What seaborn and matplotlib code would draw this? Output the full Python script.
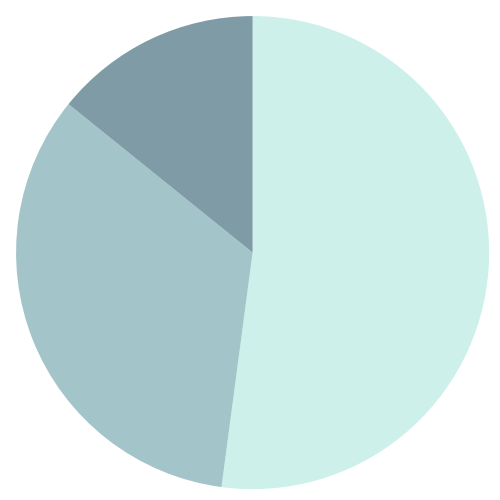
import matplotlib
matplotlib.use("Agg")
import matplotlib.pyplot as plt
import seaborn as sns

# slice data
labels = ["A", "B", "C"]
values = [52.1, 33.7, 14.2]
colors = sns.color_palette(["#cdf0ea", "#a3c4c8", "#7f9ba6"])

sns.set_style("white")

fig = plt.figure(figsize=(5, 5), dpi=100)
ax = fig.add_axes([0, 0, 1, 1])
ax.pie(values, colors=colors, startangle=90, counterclock=False,
       radius=1, wedgeprops={"linewidth": 0})
ax.set_aspect("equal")
ax.set_xlim(-1.068, 1.046)
ax.set_ylim(-1.046, 1.068)
ax.axis("off")

fig.savefig("out.png", dpi=100, facecolor="white")
